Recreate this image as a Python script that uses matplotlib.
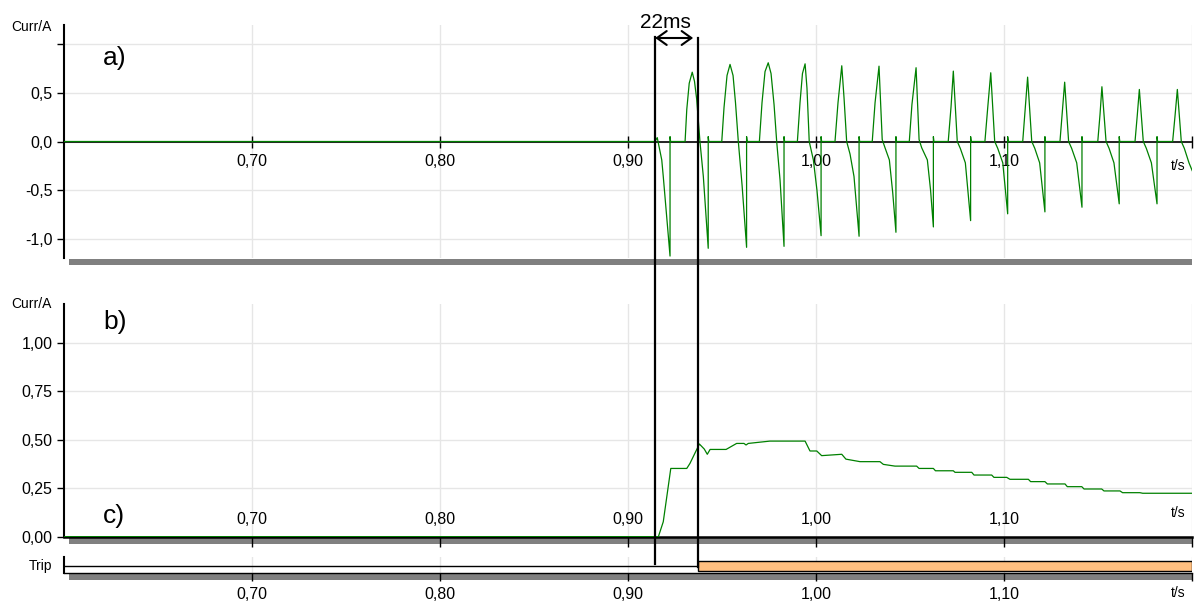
import matplotlib.pyplot as plt
from matplotlib.patches import Rectangle
from matplotlib.lines import Line2D
from matplotlib.transforms import blended_transform_factory

plt.rcParams['font.family'] = ['Liberation Sans', 'DejaVu Sans']

# ---------------------------------------------------------------------------
# data
# ---------------------------------------------------------------------------
# a) secondary current, one row per cycle
a_time = [0.6000, 0.9144, 0.9156, 0.9180, 0.9188, 0.9206, 0.9224, 0.9224, 0.9227,
          0.9304, 0.9313, 0.9326, 0.9342, 0.9354, 0.9366, 0.9383, 0.9401, 0.9427, 0.9427, 0.9430,
          0.9499, 0.9511, 0.9527, 0.9543, 0.9559, 0.9572, 0.9587, 0.9607, 0.9631, 0.9631, 0.9634,
          0.9699, 0.9713, 0.9729, 0.9746, 0.9761, 0.9777, 0.9791, 0.9809, 0.9830, 0.9830, 0.9833,
          0.9901, 0.9915, 0.9928, 0.9942, 0.9952, 0.9964, 0.9986, 1.0005, 1.0027, 1.0027, 1.0030,
          1.0101, 1.0117, 1.0137, 1.0149, 1.0163, 1.0181, 1.0202, 1.0229, 1.0229, 1.0232,
          1.0299, 1.0314, 1.0335, 1.0352, 1.0367, 1.0390, 1.0408, 1.0425, 1.0425, 1.0428,
          1.0496, 1.0510, 1.0532, 1.0548, 1.0562, 1.0592, 1.0609, 1.0624, 1.0624, 1.0627,
          1.0703, 1.0718, 1.0730, 1.0751, 1.0767, 1.0794, 1.0822, 1.0822, 1.0825,
          1.0898, 1.0913, 1.0929, 1.0950, 1.0966, 1.0993, 1.1019, 1.1019, 1.1022,
          1.1099, 1.1112, 1.1125, 1.1147, 1.1163, 1.1189, 1.1217, 1.1217, 1.1220,
          1.1297, 1.1309, 1.1322, 1.1343, 1.1359, 1.1386, 1.1414, 1.1414, 1.1417,
          1.1498, 1.1510, 1.1520, 1.1542, 1.1558, 1.1584, 1.1612, 1.1612, 1.1615,
          1.1696, 1.1708, 1.1719, 1.1740, 1.1756, 1.1783, 1.1813, 1.1813, 1.1816,
          1.1896, 1.1909, 1.1921, 1.1942, 1.1958, 1.1983, 1.2000]
a_curr = [0.0, 0.0, 0.04, -0.19, -0.36, -0.77, -1.18, 0.05, 0.0,
          0.0, 0.33, 0.60, 0.714, 0.62, 0.43, 0.0, -0.36, -1.10, 0.05, 0.0,
          0.0, 0.35, 0.68, 0.794, 0.68, 0.40, 0.0, -0.45, -1.09, 0.05, 0.0,
          0.0, 0.40, 0.72, 0.811, 0.70, 0.38, 0.0, -0.40, -1.08, 0.05, 0.0,
          0.0, 0.40, 0.70, 0.80, 0.55, 0.0, -0.19, -0.50, -0.97, 0.05, 0.0,
          0.0, 0.40, 0.78, 0.45, 0.0, -0.13, -0.36, -0.976, 0.05, 0.0,
          0.0, 0.40, 0.776, 0.02, -0.065, -0.19, -0.53, -0.935, 0.05, 0.0,
          0.0, 0.38, 0.76, 0.02, -0.065, -0.19, -0.50, -0.88, 0.05, 0.0,
          0.0, 0.36, 0.725, 0.0, -0.07, -0.22, -0.815, 0.05, 0.0,
          0.0, 0.35, 0.708, 0.0, -0.07, -0.22, -0.745, 0.05, 0.0,
          0.0, 0.33, 0.663, 0.0, -0.07, -0.22, -0.725, 0.05, 0.0,
          0.0, 0.30, 0.611, 0.0, -0.07, -0.22, -0.677, 0.05, 0.0,
          0.0, 0.28, 0.564, 0.0, -0.07, -0.22, -0.642, 0.05, 0.0,
          0.0, 0.27, 0.536, 0.0, -0.07, -0.22, -0.642, 0.05, 0.0,
          0.0, 0.27, 0.536, 0.0, -0.07, -0.22, -0.30]

# b) measured (rms) current
b_time = [0.6000, 0.9162, 0.9188, 0.9228, 0.9313, 0.9330, 0.9380, 0.9406, 0.9422,
          0.9437, 0.9522, 0.9578, 0.9617, 0.9628, 0.9640, 0.9755, 0.9942, 0.9968,
          1.0004, 1.0030, 1.0137, 1.0159, 1.0234, 1.0340, 1.0358, 1.0420, 1.0535,
          1.0548, 1.0624, 1.0635, 1.0730, 1.0739, 1.0828, 1.0840, 1.0934, 1.0946,
          1.1014, 1.1031, 1.1129, 1.1141, 1.1217, 1.1230, 1.1324, 1.1336, 1.1413,
          1.1425, 1.1519, 1.1531, 1.1616, 1.1630, 1.1722, 1.1737, 1.2000]
b_curr = [0.0, 0.0, 0.077, 0.352, 0.352, 0.378, 0.478, 0.452, 0.425,
          0.45, 0.45, 0.481, 0.481, 0.473, 0.481, 0.493, 0.493, 0.442,
          0.442, 0.418, 0.425, 0.40, 0.387, 0.387, 0.373, 0.364, 0.364,
          0.352, 0.352, 0.34, 0.34, 0.332, 0.332, 0.318, 0.318, 0.306,
          0.306, 0.296, 0.296, 0.284, 0.284, 0.272, 0.272, 0.258, 0.258,
          0.246, 0.246, 0.236, 0.236, 0.227, 0.227, 0.224, 0.224]

# trip signal (state changes)
trip_time = [0.6, 0.9372, 1.2]
trip_state = [0, 1]

fault_time = 0.9145
trip_instant = 0.9372
arrow_end = 0.9347

x_ticks = [0.7, 0.8, 0.9, 1.0, 1.1, 1.2]
x_labels = ['0,70', '0,80', '0,90', '1,00', '1,10', '']
a_yticks = [-1.0, -0.5, 0.0, 0.5, 1.0]
a_ylabels = ['-1,0', '-0,5', '0,0', '0,5', '']
b_yticks = [0.0, 0.25, 0.5, 0.75, 1.0]
b_ylabels = ['0,00', '0,25', '0,50', '0,75', '1,00']

GREEN = '#008000'
GRID = '#e6e6e6'
ORANGE = '#ffbf80'
BAR = '#808080'
FS = 11.5

W, H = 1194, 601


def box(x0, y0, x1, y1):
    # pixel box (top-left origin) -> figure fraction
    return [x0 / W, 1 - y1 / H, (x1 - x0) / W, (y1 - y0) / H]


def base_style(ax):
    ax.set_xlim(0.6, 1.2)
    ax.set_axisbelow(True)
    for side in ('top', 'right', 'bottom'):
        ax.spines[side].set_visible(False)
    ax.spines['left'].set_linewidth(1.5)
    ax.set_xticks(x_ticks)
    ax.set_xticklabels(x_labels)
    ax.grid(True, color=GRID, lw=1)


fig = plt.figure(figsize=(W / 100, H / 100), dpi=100)

ax_a = fig.add_axes(box(63.6, 25, 1192.2, 258))
ax_b = fig.add_axes(box(63.6, 304, 1192.2, 536.7))
ax_t = fig.add_axes(box(63.6, 557, 1192.2, 573))

# ---------------------------------------------------------------- a)
base_style(ax_a)
ax_a.set_ylim(-1.2, 1.2)
ax_a.spines['bottom'].set_visible(True)
ax_a.spines['bottom'].set_position(('data', 0))
ax_a.spines['bottom'].set_linewidth(1.2)
ax_a.set_yticks(a_yticks)
ax_a.set_yticklabels(a_ylabels)
ax_a.tick_params(axis='x', direction='inout', length=8, width=1, pad=5, labelsize=FS)
ax_a.tick_params(axis='y', direction='out', length=5, width=1, pad=3, labelsize=FS)
ax_a.plot(a_time, a_curr, color=GREEN, lw=0.9, zorder=3)

# ---------------------------------------------------------------- b)
base_style(ax_b)
ax_b.set_ylim(0, 1.2)
ax_b.spines['top'].set_visible(True)
ax_b.spines['top'].set_position(('data', 0))
ax_b.spines['top'].set_linewidth(1.8)
ax_b.spines['top'].set_zorder(2.6)
ax_b.xaxis.set_ticks_position('top')
ax_b.set_yticks(b_yticks)
ax_b.set_yticklabels(b_ylabels)
ax_b.tick_params(axis='x', direction='in', length=7, width=1, pad=7, labelsize=FS)
ax_b.tick_params(axis='y', direction='out', length=5, width=1, pad=3, labelsize=FS)
ax_b.plot(b_time, b_curr, color=GREEN, lw=0.9, zorder=3)

# ---------------------------------------------------------------- trip
base_style(ax_t)
ax_t.set_ylim(0, 1.6)
ax_t.spines['bottom'].set_visible(True)
ax_t.spines['bottom'].set_linewidth(1.0)
ax_t.set_yticks([])
ax_t.grid(axis='y', visible=False)
ax_t.tick_params(axis='x', direction='out', length=6, width=1, pad=4, labelsize=FS)
for t0, t1, s in zip(trip_time[:-1], trip_time[1:], trip_state):
    if s:
        ax_t.add_patch(Rectangle((t0, 0.2), t1 - t0, 1.0, facecolor=ORANGE,
                                 edgecolor='black', lw=1, zorder=3))
    else:
        ax_t.hlines(0.7, t0, t1, color='black', lw=1, zorder=3)

# gray strips under each panel (kept behind the axes)
for y0, y1 in [(259, 265), (538, 544), (574, 580)]:
    fig.add_artist(Rectangle((69 / W, 1 - y1 / H), (1192 - 69) / W, (y1 - y0) / H,
                             transform=fig.transFigure, color=BAR, lw=0, zorder=-1))

# labels
for y in (27, 304):
    fig.text(52 / W, 1 - y / H, 'Curr/A', ha='right', va='center', fontsize=10)
fig.text(52 / W, 1 - 566 / H, 'Trip', ha='right', va='center', fontsize=10)
for y in (166, 513, 593):
    fig.text(1178 / W, 1 - y / H, 't/s', ha='center', va='center', fontsize=10)
fig.text(103 / W, 1 - 58 / H, 'a)', ha='left', va='center', fontsize=19)
fig.text(103 / W, 1 - 322 / H, 'b)', ha='left', va='center', fontsize=19)
fig.text(103 / W, 1 - 516 / H, 'c)', ha='left', va='center', fontsize=19)

# 22 ms marker
tr = blended_transform_factory(ax_a.transData, fig.transFigure)
fig.add_artist(Line2D([fault_time] * 2, [1 - 37 / H, 1 - 564 / H], color='black', lw=1.6, transform=tr))
fig.add_artist(Line2D([trip_instant] * 2, [1 - 38 / H, 1 - 567 / H], color='black', lw=1.6, transform=tr))
ax_a.annotate('', xy=(fault_time, 1 - 38 / H), xytext=(arrow_end, 1 - 38 / H),
              xycoords=tr, textcoords=tr, annotation_clip=False,
              arrowprops=dict(arrowstyle='<->,head_length=0.7,head_width=0.5',
                              lw=1.5, color='black', shrinkA=0, shrinkB=0))
fig.text(665 / W, 1 - 28 / H, '22ms', ha='center', va='baseline', fontsize=15)

fig.savefig('out.png', dpi=100, facecolor='white')
